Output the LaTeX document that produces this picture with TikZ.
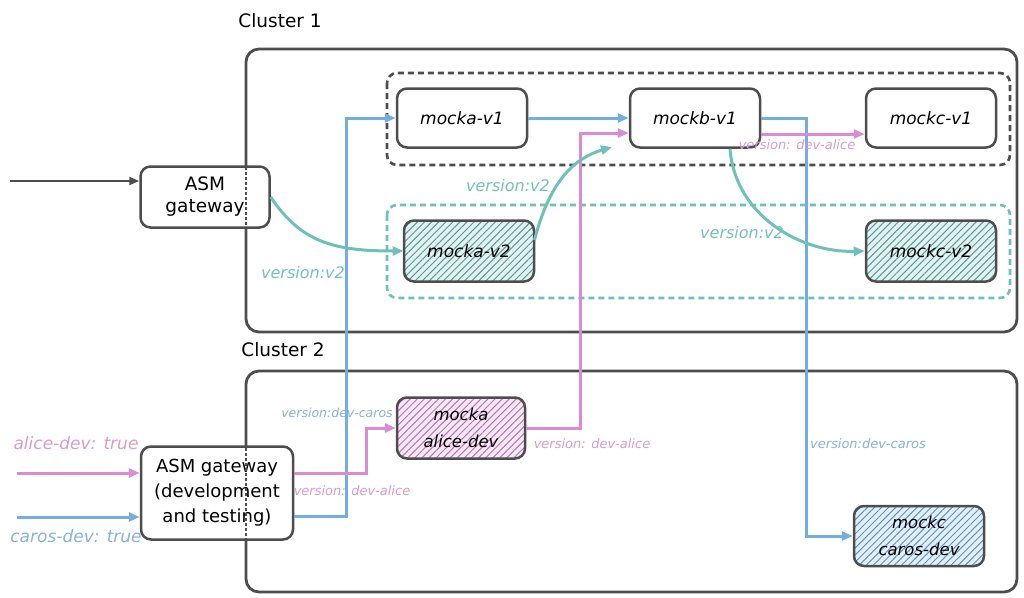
\documentclass[tikz,border=0pt]{standalone}
\usepackage{fontspec}
\setmainfont{DejaVu Sans}
\usetikzlibrary{arrows.meta,patterns.meta,calc}
\definecolor{frame}{HTML}{4D4D4D}
\definecolor{tealc}{HTML}{6FC0BB}
\definecolor{teallab}{HTML}{74C0BC}
\definecolor{pinkc}{HTML}{D98BD4}
\definecolor{pinklab}{HTML}{D49CCF}
\definecolor{bluec}{HTML}{72AEDE}
\definecolor{bluelab}{HTML}{86B4D2}
\tikzset{
  cluster/.style={draw=frame, line width=2.8pt, rounded corners=13pt},
  grp/.style={dashed, line width=2.6pt, dash pattern=on 6pt off 4pt, rounded corners=10pt},
  svc/.style={draw=frame, line width=2.5pt, rounded corners=10pt, fill=white,
    minimum width=130pt, minimum height=59pt, inner sep=2pt,
    font=\fontsize{17}{20}\selectfont\itshape, align=center},
  hatched/.style args={#1/#2}{preaction={fill=#2},
    pattern={Lines[angle=45,distance=5pt,line width=1pt]}, pattern color=#1},
  gwbox/.style={draw=frame, line width=2.5pt, rounded corners=10pt, fill=white,
    inner sep=2pt, font=\fontsize{18.5}{22}\selectfont, align=center},
  conn/.style={line width=3pt, -{Triangle[length=11pt,width=9pt]}},
  lab/.style={font=\fontsize{#1}{#1}\selectfont\itshape, inner sep=1pt},
}
\begin{document}
\begin{tikzpicture}[x=1pt,y=-1pt]
\useasboundingbox (0,0) rectangle (1024,597);
% clusters
\draw[cluster] (246,49) rectangle (1017,332);
\draw[cluster] (246,371) rectangle (1017,592);
\node[font=\fontsize{18.5}{20}\selectfont] (c1) at (280,21) {Cluster 1};
\node[font=\fontsize{18.5}{20}\selectfont] (c2) at (283,350) {Cluster 2};
% groups
\draw[grp, draw=frame] (387,73) rectangle (1010,165);
\draw[grp, draw=tealc] (387,205) rectangle (1010,298);
% services
\node[svc] (mav1) at (462,118) {mocka-v1};
\node[svc] (mbv1) at (695,118) {mockb-v1};
\node[svc] (mcv1) at (931,118) {mockc-v1};
\node[svc, hatched={tealc!80!black/tealc!20}, minimum height=61pt] (mav2) at (469,251) {mocka-v2};
\node[svc, hatched={tealc!80!black/tealc!20}, minimum height=61pt] (mcv2) at (931,251) {mockc-v2};
\node[svc, hatched={pinkc!85!black/pinkc!20}, minimum width=128pt, minimum height=61pt, font=\fontsize{16.5}{27}\selectfont\itshape] (madev) at (461,428) {mocka\\alice-dev};
\node[svc, hatched={bluec!85!black/bluec!20}, minimum height=60pt, font=\fontsize{16.5}{27}\selectfont\itshape] (mcdev) at (919,536) {mockc\\caros-dev};
% gateways
\node[gwbox, minimum width=129pt, minimum height=61pt] (gw) at (205,197) {ASM\\gateway};
\node[gwbox, minimum width=152pt, minimum height=93pt, font=\fontsize{18}{25}\selectfont] (gwdev) at (217,493) {ASM gateway\\(development\\and testing)};
\draw[frame, line width=1.2pt, dash pattern=on 3pt off 2pt] (246,167) -- (246,226);
\draw[frame, line width=1.2pt, dash pattern=on 3pt off 2pt] (246,448) -- (246,539);
% inputs
\coordinate (in0) at (10,181);
\coordinate (in1) at (17,473);
\coordinate (in2) at (17,517);
\draw[conn, draw=frame, line width=2.2pt, -{Triangle[length=10pt,width=8pt]}] (in0) -- (gw.west |- in0);
\draw[conn, draw=pinkc] (in1) -- (gwdev.west |- in1);
\draw[conn, draw=bluec] (in2) -- (gwdev.west |- in2);
\node[lab=17, text=pinklab] (l1) at (76,443) {alice-dev: true};
\node[lab=17, text=bluelab] (l2) at (76,536) {caros-dev: true};
% blue route
\draw[conn, draw=bluec] ([yshift=-23pt]gwdev.east) -- ++(52,0) |- (mav1.west);
\draw[conn, draw=bluec] (mav1.east) -- (mbv1.west);
\draw[conn, draw=bluec] (mbv1.east) -- ++(45,0) |- (mcdev.west);
% pink route
\draw[conn, draw=pinkc] ([yshift=20pt]gwdev.east) -- ++(72,0) |- (madev.west);
\draw[conn, draw=pinkc] (madev.east) -- ++(54,0) |- ([yshift=-15pt]mbv1.west);
\draw[conn, draw=pinkc] ([yshift=-16pt]mbv1.east) -- ([yshift=-16pt]mcv1.west);
% teal curves
\coordinate (tEnd) at (612,147);
\draw[conn, draw=tealc] (gw.east) .. controls +(30,45) and +(-70,0) .. (mav2.west);
\draw[conn, draw=tealc] ([yshift=11pt]mav2.east) .. controls (550,180) and (575,158) .. (tEnd);
\draw[conn, draw=tealc] ([xshift=35pt]mbv1.south) .. controls (735,215) and (800,253) .. (mcv2.west);
% labels
\node[lab=12.5, text=bluelab] (t1) at (337,413) {version:dev-caros};
\node[lab=13, text=pinklab] (t2) at (352,491) {version: dev-alice};
\node[lab=13, text=pinklab] (t3) at (592,444) {version: dev-alice};
\node[lab=13, text=bluelab] (t4) at (868,444) {version:dev-caros};
\node[lab=13, text=pinklab] (t5) at (797,145) {version: dev-alice};
\node[lab=16, text=teallab] (t6) at (303,273) {version:v2};
\node[lab=16, text=teallab] (t7) at (508,186) {version:v2};
\node[lab=16, text=teallab] (t8) at (742,233) {version:v2};
\end{tikzpicture}
\end{document}
